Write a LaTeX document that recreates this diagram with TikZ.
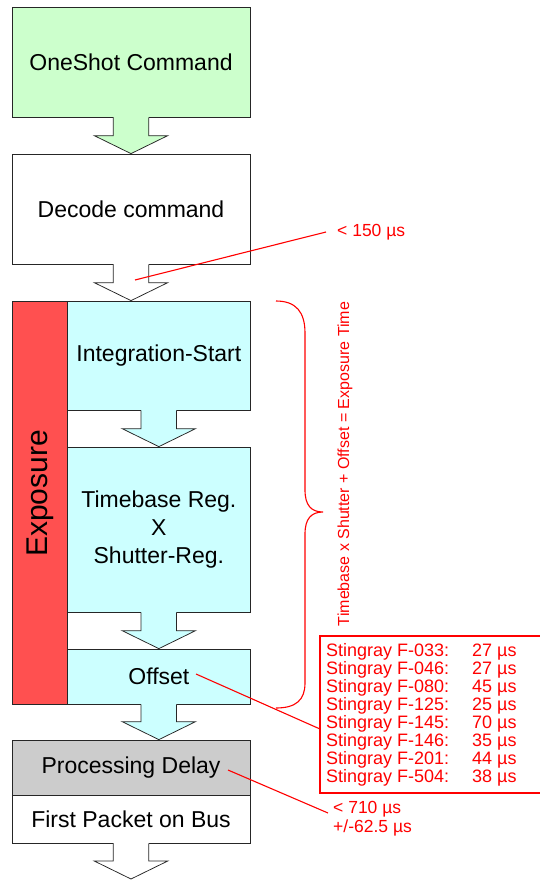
\documentclass[tikz,border=0pt]{standalone}
\usepackage{fontspec}
\setmainfont{Liberation Sans}
\usetikzlibrary{calc}
\definecolor{cgreen}{HTML}{CCFFCC}
\definecolor{ccyan}{HTML}{CCFFFF}
\definecolor{cred}{HTML}{FF5050}
\definecolor{cgray}{HTML}{CCCCCC}
\definecolor{lred}{HTML}{FF0000}
\newcommand{\myarrow}[3]{%
  \fill[#3] let \p1=(#1.south), \p2=(#2.north) in
    (\x1-17.75pt,\y1+0.8pt) -- (\x1-17.75pt,\y2+18pt) -- (\x1-36.75pt,\y2+18pt) -- (\x1,\y2)
    -- (\x1+36.75pt,\y2+18pt) -- (\x1+17.75pt,\y2+18pt) -- (\x1+17.75pt,\y1+0.8pt) -- cycle;
  \draw[boxline, line join=miter] let \p1=(#1.south), \p2=(#2.north) in
    (\x1-17.75pt,\y1) -- (\x1-17.75pt,\y2+18pt) -- (\x1-36.75pt,\y2+18pt) -- (\x1,\y2)
    -- (\x1+36.75pt,\y2+18pt) -- (\x1+17.75pt,\y2+18pt) -- (\x1+17.75pt,\y1);
}
\begin{document}
\begin{tikzpicture}[x=1pt,y=-1pt,
  boxline/.style={draw=black!85, line width=0.75pt},
  blk/.style={boxline, rectangle, inner sep=0pt, align=center, font=\fontsize{23}{28}\selectfont},
  wide/.style={blk, minimum width=238pt},
  narrow/.style={blk, minimum width=182.3pt},
  redline/.style={draw=lred, line width=1.1pt},
  redtxt/.style={text=lred, inner sep=0pt},
  tabfont/.style={font=\fontsize{18}{18}\selectfont},
  lblfont/.style={font=\fontsize{17.5}{19}\selectfont}]
\useasboundingbox (0,0) rectangle (539,880);
\fill[white] (0,0) rectangle (539,880);

% main blocks
\node[wide, fill=cgreen, minimum height=109.5pt] (cmd) at (131,62.25) {OneShot Command};
\node[wide, fill=white, minimum height=110pt] (dec) at (131,209) {Decode command};
\node[boxline, fill=cred, minimum width=55.7pt, minimum height=403pt, inner sep=0pt] (expo) at (39.85,502.5) {};
\node[rotate=90, anchor=base, font=\fontsize{30}{36}\selectfont, inner sep=0pt] (expolbl) at (47,493.5) {Exposure};
\node[narrow, fill=ccyan, minimum height=109pt] (integ) at (158.85,355.5) {Integration-Start};
\node[narrow, fill=ccyan, minimum height=165pt, text depth=4pt] (tb) at (158.85,529.5) {Timebase Reg.\\X\\Shutter-Reg.};
\node[narrow, fill=ccyan, minimum height=55pt] (off) at (158.85,676.5) {Offset};
\node[wide, fill=cgray, minimum height=55pt] (proc) at (131,767.5) {Processing Delay};
\node[wide, fill=white, minimum height=48pt] (fp) at (131,819) {First Packet on Bus};
\coordinate (busend) at (131,879);

% block arrows
\myarrow{cmd}{dec}{cgreen}
\myarrow{dec}{integ}{white}
\myarrow{integ}{tb}{ccyan}
\myarrow{tb}{off}{ccyan}
\myarrow{off}{proc}{ccyan}
\myarrow{fp}{busend}{white}

% brace and formula
\draw[redline] (276,301) .. controls (296,301) and (305,312) .. (305,333) -- (305,490)
  .. controls (305,505) and (311,512) .. (323,512)
  .. controls (311,512) and (305,519) .. (305,534) -- (305,683)
  .. controls (305,700) and (296,708) .. (276,708);
\node[redtxt, font=\fontsize{16}{19}\selectfont, rotate=90, anchor=base] (formula) at (349,464) {Timebase x Shutter + Offset = Exposure Time};

% < 150 us
\node[redtxt, lblfont, anchor=base west] (l150) at (337,236) {< 150 µs};
\coordinate (a150) at (135,280);
\coordinate (b150) at (326,232);
\draw[redline] (a150) -- (b150);

% table
\node[draw=lred, line width=1.1pt, fill=white, minimum width=221pt, minimum height=157pt, inner sep=0pt] (tbl) at (430.5,714.5) {};
\foreach \m/\v [count=\i] in {033/27,046/27,080/45,125/25,145/70,146/35,201/44,504/38} {
  \node[redtxt, tabfont, anchor=base west] (m\i) at (326,{656.7+18*(\i-1)}) {Stingray F-\m:};
  \node[redtxt, tabfont, anchor=base west] (v\i) at (472,{656.7+18*(\i-1)}) {\v\ µs};
}
\coordinate (offpt) at (196,674);
\coordinate (tblpt) at (320,729);
\draw[redline] (offpt) -- (tblpt);

% processing delay
\coordinate (procpt) at (228,770);
\coordinate (lblpt) at (328,813);
\draw[redline] (procpt) -- (lblpt);
\node[redtxt, lblfont, anchor=base west] (l710) at (333,813) {< 710 µs};
\node[redtxt, lblfont, anchor=base west] (l625) at (333,832) {+/-62.5 µs};
\end{tikzpicture}
\end{document}
